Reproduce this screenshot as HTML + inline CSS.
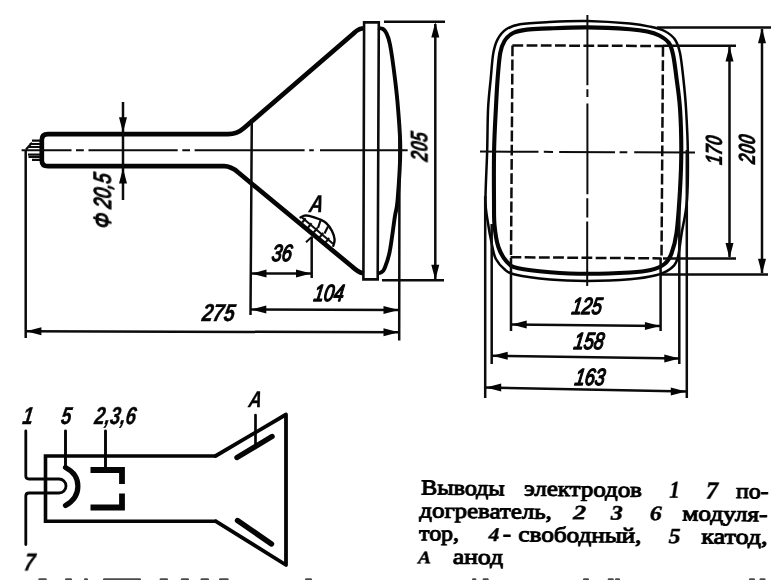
<!DOCTYPE html>
<html>
<head>
<meta charset="utf-8">
<title>CRT outline drawing</title>
<style>
html,body{margin:0;padding:0;background:#fff;}
body{width:780px;height:580px;overflow:hidden;font-family:"Liberation Sans",sans-serif;}
svg{display:block;filter:grayscale(1);}
.k{stroke:#050505;fill:none;stroke-linecap:round;stroke-linejoin:round;}
.t{stroke:#0c0c0c;fill:none;stroke-linecap:butt;}
.d{font-family:"Liberation Sans",sans-serif;font-weight:normal;font-style:italic;fill:#050505;stroke:#050505;stroke-width:1.4;stroke-linejoin:round;}
.s{font-family:"Liberation Serif",serif;font-size:21.5px;fill:#000;stroke:#000;stroke-width:0.9;}
.si{font-family:"Liberation Serif",serif;font-style:italic;font-weight:bold;font-size:19.5px;fill:#000;stroke:#000;stroke-width:0.4;}
.db{font-family:"Liberation Sans",sans-serif;font-weight:bold;font-style:italic;fill:#050505;stroke:#050505;stroke-width:0.35;stroke-linejoin:round;}
.a{fill:#050505;stroke:none;}
</style>
</head>
<body>
<svg width="780" height="580" viewBox="0 0 780 580">
<rect width="780" height="580" fill="#ffffff"/>

<!-- ================= SIDE VIEW ================= -->
<g id="side">
  <path style="stroke-linecap:butt" class="k" stroke-width="3.9" d="M378.0,28.0 C378.8,28.2 381.7,28.2 383.0,29.0 C384.3,29.8 384.8,29.9 386.0,32.5 C387.2,35.1 388.5,36.8 390.0,44.5 C391.5,52.2 393.7,68.4 395.0,79.0 C396.3,89.6 397.1,96.2 398.0,108.0 C398.9,119.8 400.4,134.7 400.3,150.0 C400.2,165.3 398.5,188.8 397.6,200.0 C396.7,211.2 396.1,208.4 394.8,217.0 C393.5,225.6 391.4,243.1 389.7,251.7 C388.0,260.3 385.9,265.0 384.5,268.5 C383.1,272.0 382.2,271.7 381.0,272.5 C379.8,273.3 377.7,273.2 377.0,273.3"/>
  <path style="stroke-linecap:butt" class="k" stroke-width="4.7" d="M364,28.3 L362,28.5 Q358,29 353.5,33.5 L244,128 Q237,134.2 228,134.2 L48,134.2 Q41.8,134.2 41.8,140 L41.8,160.5 Q41.8,166.2 48,166.2 L224,166.2 Q231,166.2 238,172.3 L352,266.5 Q358,272 362,273 L364,273.3"/>
  <!-- band -->
  <path class="t" stroke-width="2.6" stroke-linejoin="miter" d="M363.4,279.4 L364.1,22.4 L378.8,22.4 L377.7,279.4 Z"/>
  <!-- centre line -->
  <path class="t" stroke-width="2" d="M21.6,150.2 H71.5 M76,150.2 H83.8 M88.5,150.2 H177.7 M182.3,150.2 H190 M194.6,150.2 H304.6 M309.2,150.2 H313.8 M320,150.3 H407.7"/>
  <!-- pins -->
  <path class="t" stroke-width="2.2" d="M32,140.6 H40 M29.5,144 H40 M27.5,147 H40 M28,154.6 H40 M28.5,157 H40 M32,159.8 H40 M26,149.5 L32,142.8"/>
  <!-- vertical extension lines -->
  <path class="t" stroke-width="2.5" d="M25.7,150 V338 M251.8,119 L250.5,315 M311.7,237 V278 M399.5,120 L399.2,340.6"/>
  <!-- 205 -->
  <path class="t" stroke-width="2.5" d="M384,21.8 H445 M382,280.3 H444 M435.3,24 V279"/>
  <path class="a" d="M435.3,22.3 L431.3,37.5 L439.3,37.5 Z M435.3,280.0 L431.3,264.8 L439.3,264.8 Z"/>
  <!-- neck diameter dim -->
  <path class="t" stroke-width="2.5" d="M123,102 V200"/>
  <path class="a" d="M123.0,132.5 L119.0,117.3 L127.0,117.3 Z M123.0,168.3 L119.0,183.5 L127.0,183.5 Z"/>
  <!-- 36 dim -->
  <path class="t" stroke-width="2.5" d="M250.8,273.6 H311.7"/>
  <path class="a" d="M251.3,273.6 L266.5,269.6 L266.5,277.6 Z M311.2,273.6 L296.0,269.6 L296.0,277.6 Z"/>
  <!-- 104 dim -->
  <path class="t" stroke-width="2.5" d="M250.6,309.5 L399.2,309.9"/>
  <path class="a" d="M251.1,309.5 L266.3,305.5 L266.3,313.5 Z M398.7,309.9 L383.5,305.9 L383.5,313.9 Z"/>
  <!-- 275 dim -->
  <path class="t" stroke-width="2.5" d="M25.7,331.2 L399.2,332.3"/>
  <path class="a" d="M26.2,331.2 L41.4,327.2 L41.4,335.2 Z M398.7,332.3 L383.5,328.3 L383.5,336.3 Z"/>
  <!-- anode button -->
  <path class="k" stroke-width="2.4" d="M300.5,217.4 C301.2,217.1 303.1,215.9 304.5,215.6 C305.9,215.3 306.6,215.2 309.0,215.8 C311.4,216.4 316.0,217.8 318.8,219.0 C321.6,220.2 323.8,220.8 326.0,222.8 C328.2,224.8 330.6,228.2 332.0,231.0 C333.4,233.8 334.4,237.0 334.6,239.5 C334.8,242.0 333.5,244.8 333.3,245.8"/>
  <path class="t" stroke-width="2" d="M302,217.6 L333,243.8"/>
  <path class="t" stroke-width="2.2" d="M302.2,222.6 L305.6,218.3 M308,227.6 L311.6,223.2 M313.8,232.4 L317.4,228 M319.6,237.4 L323.2,233 M325.6,242.4 L329.2,238 M318,228 L320.5,220.5 M324.5,233.5 L328,226.5"/>
  <path class="t" stroke-width="2" d="M306,242.3 L312,236.6"/>
</g>

<!-- ================= FRONT VIEW ================= -->
<g id="front">
  <path class="k" stroke-width="2.5" d="M587.0,21.0 C600.5,21.3 619.4,22.6 630.0,23.6 C640.6,24.6 645.0,25.6 650.7,26.8 C656.5,28.0 660.5,28.9 664.5,31.0 C668.5,33.1 672.2,35.6 674.8,39.3 C677.4,43.0 678.6,46.5 680.0,53.1 C681.4,59.7 682.4,69.8 683.4,79.0 C684.4,88.2 685.3,96.5 686.0,108.3 C686.7,120.1 687.6,134.7 687.8,150.0 C688.0,165.3 688.0,186.2 687.0,200.0 C686.0,213.8 683.3,223.2 681.7,233.0 C680.1,242.8 679.4,252.9 677.4,259.0 C675.4,265.1 673.3,266.6 669.7,269.3 C666.1,272.0 662.5,273.7 655.9,275.3 C649.3,276.9 641.5,278.3 630.0,279.2 C618.5,280.1 600.3,280.8 587.0,280.9 C573.7,280.9 562.0,280.6 550.0,279.5 C538.0,278.4 522.4,276.2 514.8,274.5 C507.2,272.8 507.6,271.9 504.5,269.3 C501.4,266.7 497.9,262.7 495.9,259.0 C493.9,255.3 493.8,253.5 492.4,247.0 C491.0,240.5 488.6,227.8 487.5,220.0 C486.4,212.2 485.6,211.7 485.5,200.0 C485.4,188.3 486.8,165.3 487.2,150.0 C487.6,134.7 487.5,120.1 488.1,108.3 C488.7,96.5 489.8,88.2 490.7,79.0 C491.6,69.8 492.1,59.7 493.3,53.1 C494.5,46.5 495.5,43.3 497.6,39.3 C499.8,35.3 502.5,31.8 506.2,29.3 C509.9,26.8 512.8,25.5 520.0,24.3 C527.2,23.1 538.1,22.6 549.3,22.0 C560.5,21.4 573.5,20.7 587.0,21.0 Z"/>
  <path class="k" stroke-width="4.1" d="M587.0,27.4 C600.5,27.5 620.0,28.5 630.0,29.2 C640.0,29.9 642.3,30.4 647.2,31.5 C652.1,32.5 655.7,33.6 659.3,35.5 C662.9,37.4 666.5,39.6 668.8,42.8 C671.1,46.0 671.8,48.8 673.1,54.8 C674.4,60.8 675.5,70.1 676.6,79.0 C677.8,87.9 679.2,96.5 680.0,108.3 C680.8,120.1 681.3,136.4 681.3,150.0 C681.3,163.6 680.8,176.2 680.0,190.0 C679.2,203.8 677.9,222.4 676.5,233.0 C675.1,243.6 673.4,248.6 671.4,253.8 C669.4,259.0 668.0,261.3 664.5,264.0 C661.0,266.7 656.5,268.6 650.7,270.0 C645.0,271.4 640.6,271.9 630.0,272.5 C619.4,273.1 600.3,273.9 587.0,273.8 C573.7,273.8 561.5,273.1 550.0,272.2 C538.5,271.3 525.5,270.0 518.3,268.3 C511.1,266.6 510.3,265.6 507.0,262.0 C503.7,258.4 500.5,253.2 498.4,247.0 C496.3,240.8 495.2,232.8 494.5,225.0 C493.8,217.2 494.1,212.5 494.0,200.0 C493.9,187.5 493.8,165.3 494.1,150.0 C494.4,134.7 495.3,120.1 495.9,108.3 C496.5,96.5 496.9,88.2 497.6,79.0 C498.3,69.8 499.1,59.4 500.2,53.1 C501.3,46.8 502.4,44.4 504.5,41.0 C506.6,37.6 509.4,34.9 513.1,33.0 C516.8,31.1 520.9,30.4 526.9,29.6 C532.9,28.8 539.3,28.8 549.3,28.4 C559.3,28.0 573.5,27.3 587.0,27.4 Z"/>
  <!-- dashed screen rectangle -->
  <path class="t" stroke-width="2.5" stroke-dasharray="10.8 3.4" d="M512.4,45.4 L663,46 M510.5,257.2 L661.5,258.4 M512.5,45.4 L511,257.2 M663,46 L661.5,258.4"/>
  <!-- centre lines -->
  <path class="t" stroke-width="2" d="M587.4,15 V85.3 M587.4,89.2 V97 M587.4,103.4 V194.3 M587.3,198.2 V217.6 M587.2,221.5 V286"/>
  <path class="t" stroke-width="2" d="M480,151.6 L538.5,151.8 M543.8,151.8 L553,151.9 M559.2,151.9 L615,152.2 M619.6,152.2 L627.3,152.3 M634.2,152.3 L695,152.5"/>
  <!-- extension lines right -->
  <path class="t" stroke-width="2.5" d="M657,27.5 H771 M663,45.8 H736 M663,258.6 H736 M660,274.5 H768"/>
  <path class="t" stroke-width="2.5" d="M729.5,47 V257 M762,29 V273"/>
  <path class="a" d="M729.5,46.2 L725.5,61.4 L733.5,61.4 Z M729.5,258.2 L725.5,243.0 L733.5,243.0 Z M762.0,28.0 L758.0,43.2 L766.0,43.2 Z M762.0,274.0 L758.0,258.8 L766.0,258.8 Z"/>
  <!-- extension lines bottom -->
  <path class="t" stroke-width="2.5" d="M511,258 V331 M660.6,258 V331 M491.7,224 V364 M679.3,190 V364 M485.2,196 V398 M686.8,150 V398"/>
  <path class="t" stroke-width="2.5" d="M511,324.6 L660.6,326 M492,355.8 L680,358.6 M485.5,387.5 L686.5,391.5"/>
  <path class="a" d="M511.5,324.6 L526.7,320.6 L526.7,328.6 Z M660.1,326.0 L644.9,322.0 L644.9,330.0 Z"/>
  <path class="a" d="M492.5,355.8 L507.7,351.8 L507.7,359.8 Z M679.5,358.6 L664.3,354.6 L664.3,362.6 Z"/>
  <path class="a" d="M486.0,387.5 L501.2,383.5 L501.2,391.5 Z M686.0,391.5 L670.8,387.5 L670.8,395.5 Z"/>
</g>

<!-- ================= SCHEMATIC ================= -->
<g id="schem">
  <path style="stroke-linecap:butt;stroke-linejoin:miter" class="k" stroke-width="3.6" d="M216,456 H45.5 V521.3 H216.5"/>
  <path class="k" stroke-width="3.8" d="M215.5,456 L286,414.5 L286,565 L216,521.3"/>
  <path class="k" stroke-width="2.8" d="M25.8,431 V476 Q25.8,479 29,479 H59 A7,7 0 0 1 59,493 H29 Q25.8,493 25.8,496 V544.5"/>
  <path class="k" stroke-width="2.9" d="M65.5,431 V466"/>
  <path class="k" stroke-width="5.2" d="M65.5,467.5 C82,476 82,496 65.5,505.5"/>
  <path class="k" stroke-width="2.9" d="M105.5,431 V468"/>
  <path style="stroke-linecap:butt;stroke-linejoin:miter" class="k" stroke-width="5.8" d="M90.5,470 H122 V484 M122,493.5 V507.5 H90.5"/>
  <path class="k" stroke-width="2.7" d="M255.5,415 V445"/>
  <path class="k" stroke-width="5.4" d="M237,457.5 L272,436.5 M237.5,520.5 L271.5,544"/>
</g>

<!-- ================= LABELS ================= -->
<g id="labels" opacity="0.999">
  <text class="db" font-size="23.5" transform="translate(427.8,147.5) rotate(-90) scale(0.74,1) skewX(-11)" text-anchor="middle">205</text>
  <text class="db" font-size="23.5" transform="translate(721.5,151) rotate(-90) scale(0.74,1) skewX(-11)" text-anchor="middle">170</text>
  <text class="db" font-size="23.5" transform="translate(755,150) rotate(-90) scale(0.74,1) skewX(-11)" text-anchor="middle">200</text>
  <text class="d" font-size="23.5" transform="translate(111,201.7) rotate(-90) scale(0.76,1) skewX(-11)" text-anchor="middle">&#934; 20,5</text>
  <text class="d" font-size="23.5" transform="translate(281,260.5) scale(0.77,1) skewX(-11)" text-anchor="middle">36</text>
  <text class="d" font-size="23.5" transform="translate(328,300.5) scale(0.77,1) skewX(-11)" text-anchor="middle">104</text>
  <text class="db" font-size="24.5" transform="translate(217.5,321) scale(0.8,1) skewX(-11)" text-anchor="middle">275</text>
  <text class="db" font-size="24" transform="translate(315.5,212.3) scale(0.8,1) skewX(-11)" text-anchor="middle">A</text>
  <text class="d" font-size="23.5" transform="translate(586,313.7) scale(0.77,1) skewX(-11)" text-anchor="middle">125</text>
  <text class="d" font-size="23.5" transform="translate(588,348.5) scale(0.77,1) skewX(-11)" text-anchor="middle">158</text>
  <text class="d" font-size="23.5" transform="translate(589,384.5) scale(0.77,1) skewX(-11)" text-anchor="middle">163</text>
  <text class="db" font-size="24.5" transform="translate(27,423.7) scale(0.76,1) skewX(-11)" text-anchor="middle">1</text>
  <text class="db" font-size="24.5" transform="translate(65.5,423.7) scale(0.76,1) skewX(-11)" text-anchor="middle">5</text>
  <text class="db" font-size="24.5" transform="translate(114.5,423.7) scale(0.76,1) skewX(-11)" text-anchor="middle">2,3,6</text>
  <text class="db" font-size="22.5" transform="translate(254.5,407) scale(0.8,1) skewX(-11)" text-anchor="middle">A</text>
  <text class="db" font-size="24.5" transform="translate(28.5,570.7) scale(0.76,1) skewX(-11)" text-anchor="middle">7</text>
</g>

<!-- ================= CAPTION ================= -->
<g id="caption" opacity="0.999" transform="rotate(0.66 420 494.4)">
  <text class="s" x="421.0" y="494.4" textLength="83.6" lengthAdjust="spacingAndGlyphs">Выводы</text>
  <text class="s" x="524.0" y="494.4" textLength="117.9" lengthAdjust="spacingAndGlyphs">электродов</text>
  <text class="si" style="font-size:24.5px" x="669.4" y="494.9" textLength="10.4" lengthAdjust="spacingAndGlyphs">1</text>
  <text class="si" style="font-size:24.5px" x="705.9" y="495.2" textLength="12.2" lengthAdjust="spacingAndGlyphs">7</text>
  <text class="s" x="736.0" y="494.4" textLength="32.5" lengthAdjust="spacingAndGlyphs">по-</text>
  <text class="s" x="419.6" y="517.4" textLength="132.4" lengthAdjust="spacingAndGlyphs">догреватель,</text>
  <text class="si" style="font-size:20.5px" x="573.4" y="517.4" textLength="13.0" lengthAdjust="spacingAndGlyphs">2</text>
  <text class="si" style="font-size:20.5px" x="611.0" y="517.4" textLength="11.9" lengthAdjust="spacingAndGlyphs">3</text>
  <text class="si" style="font-size:20.5px" x="650.1" y="517.4" textLength="11.9" lengthAdjust="spacingAndGlyphs">6</text>
  <text class="s" x="682.6" y="517.4" textLength="85.0" lengthAdjust="spacingAndGlyphs">модуля-</text>
  <text class="s" x="419.6" y="540.2" textLength="39.9" lengthAdjust="spacingAndGlyphs">тор,</text>
  <text class="si" x="489.1" y="540.2" textLength="10.7" lengthAdjust="spacingAndGlyphs">4</text>
  <text class="s" x="503.4" y="539.7" textLength="8.2" lengthAdjust="spacingAndGlyphs">-</text>
  <text class="s" x="518.8" y="540.2" textLength="123.1" lengthAdjust="spacingAndGlyphs">свободный,</text>
  <text class="si" style="font-size:21.5px" x="669.1" y="540.2" textLength="11.9" lengthAdjust="spacingAndGlyphs">5</text>
  <text class="s" x="701.9" y="540.2" textLength="66.2" lengthAdjust="spacingAndGlyphs">катод,</text>
  <text class="si" style="font-size:17.5px" x="418.7" y="563.3" textLength="12.9" lengthAdjust="spacingAndGlyphs">А</text>
  <text class="s" x="453.5" y="563.3" textLength="50.3" lengthAdjust="spacingAndGlyphs">анод</text>
</g>
<g id="cut" fill="#4a4a4a"><rect x="38.3" y="578.2" width="8.5" height="2.5" rx="1.2"/><rect x="65.0" y="578.2" width="7.0" height="2.5" rx="1.2"/><rect x="84.0" y="578.2" width="4.0" height="2.5" rx="1.2"/><rect x="103.0" y="578.2" width="38.0" height="2.5" rx="1.2"/><rect x="159.6" y="578.2" width="8.4" height="2.5" rx="1.2"/><rect x="180.8" y="578.2" width="8.2" height="2.5" rx="1.2"/><rect x="200.5" y="578.2" width="8.5" height="2.5" rx="1.2"/><rect x="219.0" y="578.2" width="9.7" height="2.5" rx="1.2"/><rect x="305.0" y="578.2" width="7.0" height="2.5" rx="1.2"/><rect x="472.0" y="578.2" width="4.4" height="2.5" rx="1.2"/><rect x="482.6" y="578.2" width="6.1" height="2.5" rx="1.2"/><rect x="583.0" y="578.2" width="6.0" height="2.5" rx="1.2"/><rect x="607.7" y="578.2" width="6.1" height="2.5" rx="1.2"/><rect x="615.0" y="578.2" width="5.0" height="2.5" rx="1.2"/><rect x="749.0" y="578.2" width="6.0" height="2.5" rx="1.2"/><rect x="759.5" y="578.2" width="6.1" height="2.5" rx="1.2"/></g>
</svg>
</body>
</html>
